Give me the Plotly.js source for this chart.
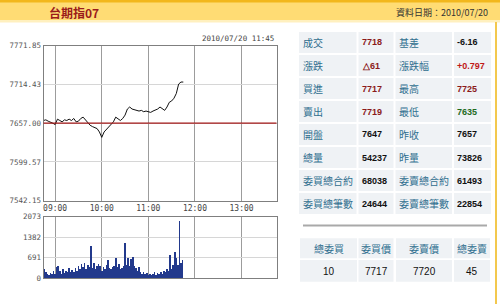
<!DOCTYPE html>
<html>
<head>
<meta charset="utf-8">
<script src="https://cdn.plot.ly/plotly-3.0.1.min.js"></script>
<style>
  html, body { margin: 0; padding: 0; background: #ffffff; }
  #chart { width: 500px; height: 304px; }
</style>
</head>
<body>
<div id="chart"></div>
<script>
// ---- intraday data: TX 07 futures, 2010/07/20 ----
const tradeDate = "2010-07-20";
const quoteStamp = "2010/07/20 11:45";
const prevClose = 7657;

const priceTimes = ["08:45","08:48","08:51","08:54","08:57","09:00","09:03","09:06","09:09","09:12",
  "09:15","09:18","09:21","09:24","09:27","09:30","09:33","09:36","09:39","09:42",
  "09:45","09:48","09:51","09:54","09:57","10:00","10:03","10:06","10:09","10:12",
  "10:15","10:18","10:21","10:24","10:27","10:30","10:33","10:36","10:39","10:42",
  "10:45","10:48","10:51","10:54","10:57","11:00","11:03","11:06","11:09","11:12",
  "11:15","11:18","11:21","11:24","11:27","11:30","11:33","11:36","11:39","11:42","11:45"];
const priceValues = [7661,7662,7660,7659,7657,7655,7663,7661,7659,7662,
  7661,7663,7661,7664,7659,7660,7664,7666,7662,7658,
  7654,7652,7650,7649,7644,7636,7644,7648,7651,7655,
  7659,7666,7663,7661,7664,7669,7678,7681,7678,7677,
  7676,7675,7676,7674,7675,7674,7673,7675,7676,7678,
  7681,7679,7676,7681,7688,7690,7694,7701,7715,7718,7718];

const volumeTimes = ["08:46","08:48","08:50","08:52","08:54","08:56","08:58",
  "09:00","09:02","09:04","09:06","09:08","09:10","09:12","09:14","09:16","09:18",
  "09:20","09:22","09:24","09:26","09:28","09:30","09:32","09:34","09:36","09:38",
  "09:40","09:42","09:44","09:46","09:48","09:50","09:52","09:54","09:56","09:58",
  "10:00","10:02","10:04","10:06","10:08","10:10","10:12","10:14","10:16","10:18",
  "10:20","10:22","10:24","10:26","10:28","10:30","10:32","10:34","10:36","10:38",
  "10:40","10:42","10:44","10:46","10:48","10:50","10:52","10:54","10:56","10:58",
  "11:00","11:02","11:04","11:06","11:08","11:10","11:12","11:14","11:16","11:18",
  "11:20","11:22","11:24","11:26","11:28","11:30","11:32","11:34","11:36","11:38",
  "11:40","11:42","11:44"];
const volumeValues = [320,200,150,120,180,140,260,
  150,380,430,250,160,300,180,240,200,360,
  220,280,200,330,260,420,300,480,380,520,
  300,440,380,1090,350,520,300,420,480,400,
  260,380,300,450,600,330,300,380,420,700,
  380,480,300,350,420,1200,450,680,400,640,
  720,420,330,260,380,200,160,220,150,180,
  120,150,100,130,200,120,180,140,220,160,
  260,200,300,250,780,320,450,900,700,450,
  1930,500,620];

// axis ticks
const hourTicks = ["09:00","10:00","11:00","12:00","13:00"];
const priceTicks = [7542.15, 7599.57, 7657.00, 7714.43, 7771.85];
const volumeTicks = [0, 691, 1382, 2073];

// quote table
const quoteLabelsL = ["成交","漲跌","買進","賣出","開盤","總量","委買總合約","委買總筆數"];
const quoteValuesL = ["7718","△61","7717","7719","7647","54237","68038","24644"];
const quoteColorsL = ["#8b1a1a","#8b1a1a","#8b1a1a","#8b1a1a","#111111","#111111","#111111","#111111"];
const quoteLabelsR = ["基差","漲跌幅","最高","最低","昨收","昨量","委賣總合約","委賣總筆數"];
const quoteValuesR = ["-6.16","+0.797","7725","7635","7657","73826","61493","22854"];
const quoteColorsR = ["#111111","#c01818","#8b1a1a","#1d6b1d","#111111","#111111","#111111","#111111"];

// order book summary
const orderHeads = ["總委買","委買價","委賣價","總委賣"];
const orderValues = ["10","7717","7720","45"];

// ---- page geometry helpers (pixels -> paper fraction, margins are zero) ----
const W = 500, H = 304;
const px = v => v / W;
const py = v => 1 - v / H;
const full = t => tradeDate + " " + t;

const plotX = [px(43.5), px(276.5)];

const labelFont = {family: "Noto Sans CJK TC", size: 10, color: "#2f6f8f"};
const valueFont = c => ({family: "Liberation Sans", size: 9, color: c, weight: 700});
const cellFill = "#eff2f5";

const shapes = [];
const annotations = [];

// header band
shapes.push({type: "rect", xref: "paper", yref: "paper", x0: 0, x1: 1, y0: py(22.5), y1: py(0),
  fillcolor: "#fff0bf", line: {width: 0}});
shapes.push({type: "rect", xref: "paper", yref: "paper", x0: 0, x1: 1, y0: py(20), y1: py(0),
  fillcolor: "#ffdc74", line: {width: 0}});
shapes.push({type: "rect", xref: "paper", yref: "paper", x0: 0, x1: 1, y0: py(2.6), y1: py(0),
  fillcolor: "#f2b71c", line: {width: 0}});
// right page border
shapes.push({type: "line", xref: "paper", yref: "paper", x0: px(496), x1: px(496), y0: py(304), y1: py(22),
  line: {color: "#f3c84e", width: 2}});

annotations.push({xref: "paper", yref: "paper", x: px(47), y: py(13), xanchor: "left", yanchor: "middle",
  text: "<b>台期指07</b>", showarrow: false,
  font: {family: "Noto Sans CJK TC", size: 12, color: "#9b1b1b"}});
annotations.push({xref: "paper", yref: "paper", x: px(490), y: py(13), xanchor: "right", yanchor: "middle",
  text: "資料日期：" + tradeDate.replace(/-/g, "/"), showarrow: false,
  font: {family: "Noto Sans CJK TC", size: 9, color: "#333333"}});

// timestamp above the price panel
annotations.push({xref: "paper", yref: "paper", x: px(276), y: py(38), xanchor: "right", yanchor: "middle",
  text: quoteStamp, showarrow: false,
  font: {family: "DejaVu Sans Mono", size: 7.5, color: "#444444"}});

// previous close reference line
shapes.push({type: "line", xref: "paper", yref: "y", x0: plotX[0], x1: plotX[1], y0: prevClose, y1: prevClose,
  line: {color: "#a31818", width: 1.2}});

// quote table cells
const cols = [[299, 356.5], [358.5, 393.5], [395.5, 452], [454, 491]];
for (let r = 0; r < quoteLabelsL.length; r++) {
  const top = 32 + 23 * r, bot = top + 21, mid = top + 10.5;
  cols.forEach(c => shapes.push({type: "rect", xref: "paper", yref: "paper",
    x0: px(c[0]), x1: px(c[1]), y0: py(bot), y1: py(top), fillcolor: cellFill, line: {width: 0}, layer: "below"}));
  annotations.push({xref: "paper", yref: "paper", x: px(301), y: py(mid), xanchor: "left", yanchor: "middle",
    text: quoteLabelsL[r], showarrow: false, font: labelFont});
  annotations.push({xref: "paper", yref: "paper", x: px(360), y: py(mid), xanchor: "left", yanchor: "middle",
    text: quoteValuesL[r], showarrow: false, font: valueFont(quoteColorsL[r])});
  annotations.push({xref: "paper", yref: "paper", x: px(397), y: py(mid), xanchor: "left", yanchor: "middle",
    text: quoteLabelsR[r], showarrow: false, font: labelFont});
  annotations.push({xref: "paper", yref: "paper", x: px(455), y: py(mid), xanchor: "left", yanchor: "middle",
    text: quoteValuesR[r], showarrow: false, font: valueFont(quoteColorsR[r])});
}

// divider above order summary
shapes.push({type: "line", xref: "paper", yref: "paper", x0: px(303), x1: px(487), y0: py(225.5), y1: py(225.5),
  line: {color: "#a9a9a9", width: 2}});

// order summary cells
const ordCols = [[300, 357], [358.5, 393.5], [396, 452], [454, 490]];
ordCols.forEach((c, i) => {
  const cx = (c[0] + c[1]) / 2;
  shapes.push({type: "rect", xref: "paper", yref: "paper", x0: px(c[0]), x1: px(c[1]),
    y0: py(258.3), y1: py(238.3), fillcolor: cellFill, line: {width: 0}, layer: "below"});
  shapes.push({type: "rect", xref: "paper", yref: "paper", x0: px(c[0]), x1: px(c[1]),
    y0: py(281.7), y1: py(260), fillcolor: cellFill, line: {width: 0}, layer: "below"});
  annotations.push({xref: "paper", yref: "paper", x: px(cx), y: py(248), xanchor: "center", yanchor: "middle",
    text: orderHeads[i], showarrow: false, font: labelFont});
  annotations.push({xref: "paper", yref: "paper", x: px(cx), y: py(271.5), xanchor: "center", yanchor: "middle",
    text: orderValues[i], showarrow: false,
    font: {family: "Liberation Sans", size: 10, color: "#111111"}});
});

// ---- traces ----
const priceTrace = {
  type: "scatter", mode: "lines",
  x: priceTimes.map(full), y: priceValues,
  xaxis: "x", yaxis: "y",
  line: {color: "#111111", width: 1},
  hoverinfo: "skip"
};
const volumeTrace = {
  type: "bar",
  x: volumeTimes.map(full), y: volumeValues,
  xaxis: "x2", yaxis: "y2",
  marker: {color: "#22398c", line: {width: 0}},
  hoverinfo: "skip"
};

const gridV = "#9c9c9c", gridH = "#d6d6d6", frame = "#7f7f7f";
const tickFont = {family: "DejaVu Sans Mono", size: 8, color: "#444444"};

const layout = {
  width: W, height: H,
  margin: {l: 0, r: 0, t: 0, b: 0},
  paper_bgcolor: "#ffffff", plot_bgcolor: "#ffffff",
  showlegend: false, bargap: 0,
  xaxis: {
    domain: plotX, anchor: "y", type: "date",
    range: [full("08:45"), full("13:45")],
    tickmode: "array", tickvals: hourTicks.map(full), ticktext: hourTicks,
    showgrid: true, gridcolor: gridV, gridwidth: 1,
    showline: true, mirror: true, linecolor: frame, linewidth: 1,
    ticks: "", zeroline: false, tickfont: tickFont
  },
  yaxis: {
    domain: [py(200.7), py(45.7)], anchor: "x",
    range: [priceTicks[0], priceTicks[priceTicks.length - 1]],
    tickmode: "array", tickvals: priceTicks, ticktext: priceTicks.map(v => v.toFixed(2)),
    showgrid: true, gridcolor: gridH, gridwidth: 1,
    showline: true, mirror: true, linecolor: frame, linewidth: 1,
    ticks: "", zeroline: false,
    tickfont: {family: "DejaVu Sans Mono", size: 7.5, color: "#555555"}
  },
  xaxis2: {
    domain: plotX, anchor: "y2", type: "date", matches: "x",
    tickmode: "array", tickvals: hourTicks.map(full), showticklabels: false,
    showgrid: true, gridcolor: gridV, gridwidth: 1,
    showline: true, mirror: true, linecolor: frame, linewidth: 1,
    ticks: "", zeroline: false
  },
  yaxis2: {
    domain: [py(278.3), py(216.7)], anchor: "x2",
    range: [volumeTicks[0], volumeTicks[volumeTicks.length - 1]],
    tickmode: "array", tickvals: volumeTicks, ticktext: volumeTicks.map(String),
    showgrid: true, gridcolor: gridH, gridwidth: 1,
    showline: true, mirror: true, linecolor: frame, linewidth: 1,
    ticks: "", zeroline: false,
    tickfont: {family: "DejaVu Sans Mono", size: 7.5, color: "#555555"}
  },
  shapes: shapes,
  annotations: annotations
};

Plotly.newPlot("chart", [priceTrace, volumeTrace], layout, {staticPlot: true, displayModeBar: false});
</script>
</body>
</html>
